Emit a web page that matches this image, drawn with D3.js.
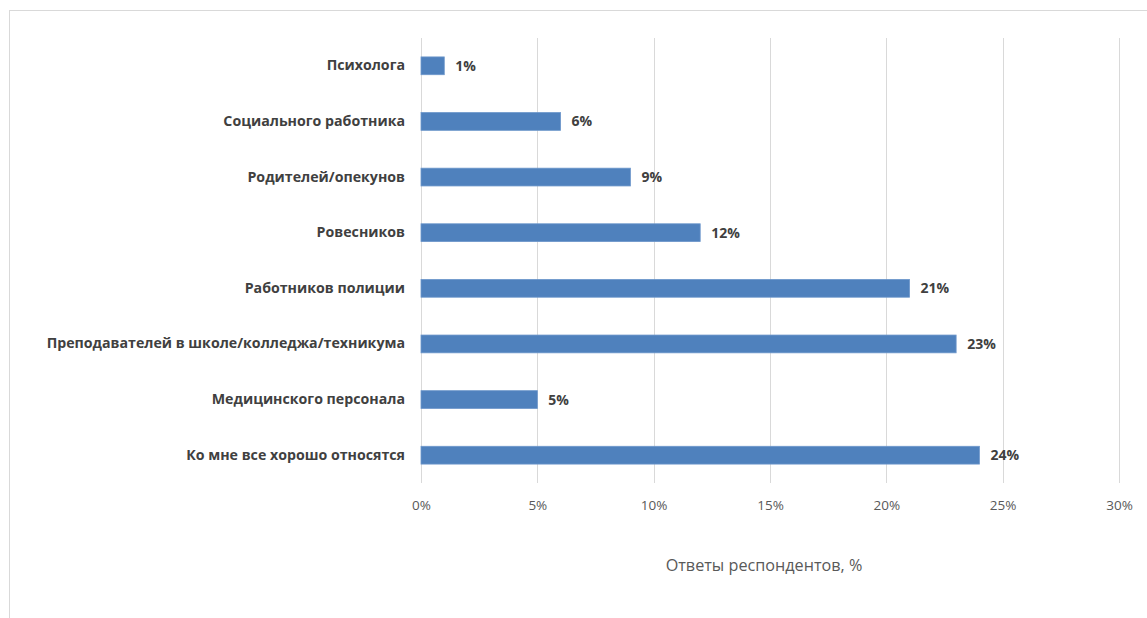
<!DOCTYPE html>
<html><head><meta charset="utf-8">
<script src="https://cdn.jsdelivr.net/npm/d3@7"></script>
<style>body{margin:0;background:#fff;} svg{display:block;}</style>
</head><body>
<svg id="c" width="1147" height="618"></svg>
<script>
const categories = ["Психолога","Социального работника","Родителей/опекунов","Ровесников","Работников полиции","Преподавателей в школе/колледжа/техникума","Медицинского персонала","Ко мне все хорошо относятся"];
const values = [1,6,9,12,21,23,5,24];
const tickValues = [0,5,10,15,20,25,30];
const axisTitle = "Ответы респондентов, %";

const svg = d3.select("#c");
const font = "'Open Sans', 'Noto Sans', sans-serif";
svg.append("rect").attr("x",9.5).attr("y",10.5).attr("width",1150).attr("height",620)
  .attr("fill","#fff").attr("stroke","#d9d9d9").attr("stroke-width",1);

const x = d3.scaleLinear().domain([0,30]).range([421,1119]);
const y = d3.scaleBand().domain(categories).range([38,483]).paddingInner(0.68).paddingOuter(0.34);

const g = svg.append("g");
g.selectAll("line.grid").data(tickValues).join("line")
  .attr("x1",d=>Math.round(x(d))+0.5).attr("x2",d=>Math.round(x(d))+0.5)
  .attr("y1",38).attr("y2",483).attr("stroke","#d9d9d9").attr("stroke-width",1);

const xAxis = d3.axisBottom(x).tickValues(tickValues).tickFormat(d=>d+"%").tickSize(0).tickPadding(0);
const ax = svg.append("g").attr("transform","translate(0,510)").call(xAxis);
ax.select(".domain").remove();
ax.selectAll("text").attr("font-family",font).attr("font-size",13.5).attr("fill","#595959").attr("dy","0");

g.selectAll("rect.bar").data(values).join("rect")
  .attr("x",x(0)).attr("y",(d,i)=>y(categories[i]))
  .attr("width",d=>x(d)-x(0)).attr("height",y.bandwidth())
  .attr("fill","#4f81bd").attr("stroke","#6d97cb").attr("stroke-width",0.8);

g.selectAll("text.val").data(values).join("text")
  .attr("x",d=>x(d)+11).attr("y",(d,i)=>y(categories[i])+y.bandwidth()/2)
  .attr("dy","0.36em").attr("font-family",font).attr("font-size",14).attr("font-weight","bold")
  .attr("fill","#404040").text(d=>d+"%");

const yAxis = d3.axisLeft(y).tickSize(0).tickPadding(16);
const ay = svg.append("g").attr("transform","translate(421,0)").call(yAxis);
ay.select(".domain").remove();
ay.selectAll("text").attr("font-family",font).attr("font-size",14.2).attr("font-weight","bold").attr("fill","#404040");

svg.append("text").attr("x",764).attr("y",571).attr("text-anchor","middle")
  .attr("font-family",font).attr("font-size",16.2).attr("fill","#595959").text(axisTitle);
</script>
</body></html>
